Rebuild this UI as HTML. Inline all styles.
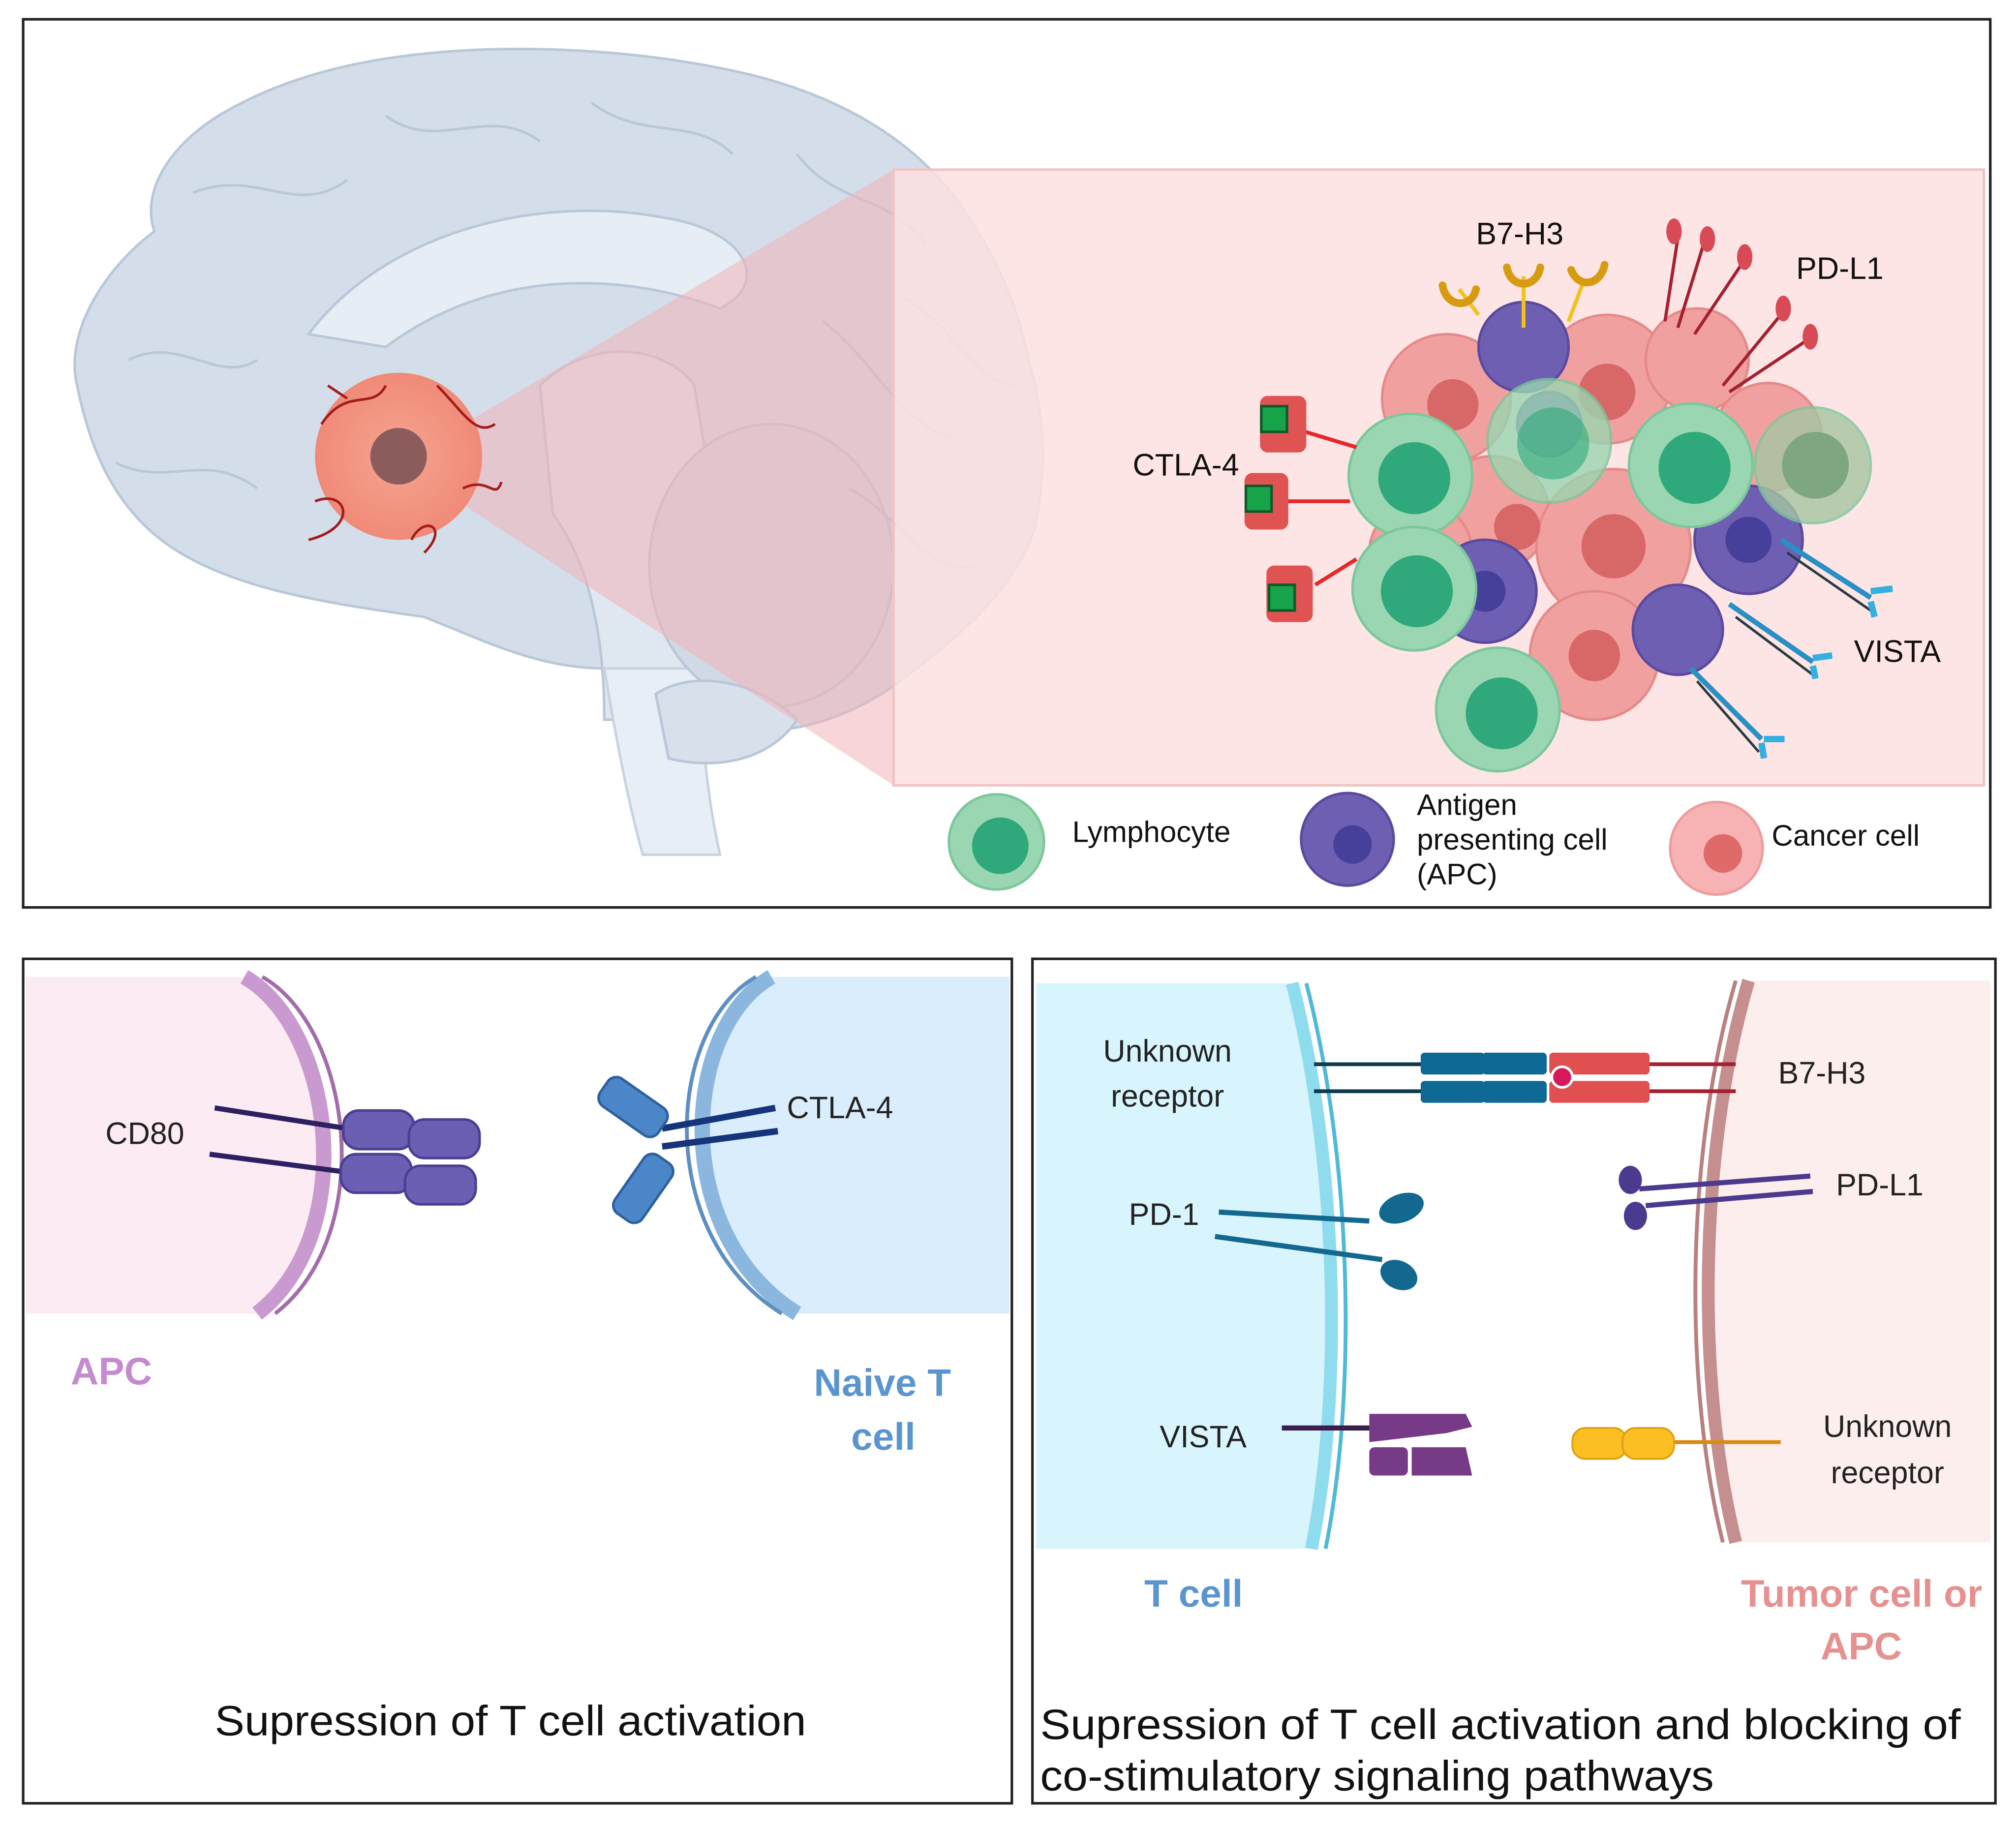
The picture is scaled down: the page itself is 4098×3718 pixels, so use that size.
<!DOCTYPE html>
<html><head><meta charset="utf-8"><style>
html,body{margin:0;padding:0;background:#fff}
svg{display:block}
text{font-family:"Liberation Sans",sans-serif}
</style></head><body>
<svg width="4098" height="3718" viewBox="0 0 1568 1423" preserveAspectRatio="none" xmlns="http://www.w3.org/2000/svg">
<defs>
<radialGradient id="tum" cx="50%" cy="50%" r="50%"><stop offset="0" stop-color="#f4a58f"/><stop offset="1" stop-color="#f08a78"/></radialGradient>
</defs>
<rect x="0" y="0" width="1568" height="1423" fill="#fff"/>
<!-- TOP PANEL -->
<rect x="18" y="15" width="1530" height="691" fill="#fff" stroke="#222" stroke-width="2"/>
<!-- Brain -->
<path d="M120,180 C80,210 50,260 60,300 C70,350 90,400 140,430 C190,460 260,470 330,480 C380,500 420,520 470,520 C500,540 520,560 560,560 C600,580 660,560 700,530 C740,500 790,460 805,410 C815,360 812,320 800,280 C790,230 770,190 740,150 C700,100 640,70 570,55 C500,40 420,35 350,40 C280,45 220,60 170,90 C130,115 110,150 120,180 Z" fill="#d3deea" stroke="#b9c7d8" stroke-width="2"/>
<path d="M240,260 C300,180 420,150 520,170 C580,180 600,220 560,240 C480,210 380,210 300,270 Z" fill="#e6edf5" stroke="#b9c7d8" stroke-width="2"/>
<path d="M420,300 C460,260 520,270 540,300 L560,420 C550,470 540,520 545,560 L470,560 C470,500 460,440 430,400 Z" fill="#dfe7f0" stroke="#b9c7d8" stroke-width="2"/>
<path d="M470,520 C480,580 490,630 500,665 L560,665 C550,620 545,570 545,520 Z" fill="#e8eef5" stroke="#c8d3e0" stroke-width="2"/>
<ellipse cx="600" cy="440" rx="95" ry="110" fill="#d0dae6" stroke="#b9c7d8" stroke-width="2"/>
<path d="M510,540 C540,520 590,530 620,560 C600,590 560,600 520,590 Z" fill="#d7e0eb" stroke="#b9c7d8" stroke-width="2"/>
<g stroke="#b9c7d8" stroke-width="2" fill="none">
<path d="M150,150 C200,130 230,170 270,140"/><path d="M300,90 C340,120 380,80 420,110"/><path d="M460,80 C500,110 540,90 570,120"/><path d="M620,120 C650,160 690,150 720,190"/><path d="M100,280 C140,260 170,300 200,280"/><path d="M640,250 C680,280 700,330 740,340"/><path d="M90,360 C130,380 160,350 200,380"/><path d="M660,380 C700,400 720,450 760,440"/><path d="M700,230 C740,250 760,300 790,300"/>
</g>
<!-- Pink zoom region -->
<polygon points="310,360 695,132 695,611" fill="#f2b3b8" opacity="0.55"/>
<rect x="695" y="132" width="848" height="479" fill="#fde0e0" fill-opacity="0.85" stroke="#f0c4c4" stroke-width="2"/>
<!-- Tumor -->
<circle cx="310" cy="355" r="65" fill="url(#tum)"/>
<circle cx="310" cy="355" r="22" fill="#8c5c5c"/>
<g stroke="#a31d1d" stroke-width="2" fill="none">
<path d="M250,330 C270,300 290,320 300,300"/><path d="M340,300 C360,320 370,340 385,330"/><path d="M245,390 C270,380 280,410 240,420"/><path d="M320,420 C330,400 350,410 330,430"/><path d="M360,380 C380,370 385,390 390,375"/><path d="M270,310 L255,300"/>
</g>
<!-- Cluster: cancer cells -->
<g fill="#f1a0a0" stroke="#e58a8a" stroke-width="2">
<circle cx="1125" cy="310" r="50"/><circle cx="1250" cy="295" r="50"/><circle cx="1320" cy="280" r="40"/><circle cx="1375" cy="340" r="42"/>
<circle cx="1160" cy="400" r="45"/><circle cx="1255" cy="425" r="60"/><circle cx="1240" cy="510" r="50"/><circle cx="1105" cy="430" r="40"/>
</g>
<g fill="#d86868"><circle cx="1130" cy="315" r="20"/><circle cx="1250" cy="305" r="22"/><circle cx="1255" cy="425" r="25"/><circle cx="1240" cy="510" r="20"/><circle cx="1180" cy="410" r="18"/></g>
<!-- APCs -->
<g fill="#6f5fb3" stroke="#5a4a9e" stroke-width="2">
<circle cx="1185" cy="270" r="35"/><circle cx="1155" cy="460" r="40"/><circle cx="1360" cy="420" r="42"/><circle cx="1305" cy="490" r="35"/><circle cx="1205" cy="330" r="25"/>
</g>
<g fill="#47409a"><circle cx="1360" cy="420" r="18"/><circle cx="1155" cy="460" r="16"/></g>
<!-- Lymphocytes -->
<g stroke="#7cc79c" stroke-width="2">
<circle cx="1097" cy="370" r="48" fill="#9ad6b1"/><circle cx="1100" cy="458" r="48" fill="#9ad6b1"/><circle cx="1165" cy="552" r="48" fill="#9ad6b1"/>
<circle cx="1205" cy="343" r="48" fill="#9ad6b1" opacity="0.8"/><circle cx="1315" cy="362" r="48" fill="#9ad6b1"/><circle cx="1410" cy="362" r="45" fill="#a6c7a2" opacity="0.8"/>
</g>
<g fill="#2fa97b"><circle cx="1100" cy="372" r="28"/><circle cx="1102" cy="460" r="28"/><circle cx="1168" cy="555" r="28"/><circle cx="1208" cy="345" r="28" opacity="0.6"/><circle cx="1318" cy="364" r="28"/><circle cx="1412" cy="362" r="26" fill="#7ea77f"/></g>
<!-- CTLA-4 receptors -->
<g stroke="#e62828" stroke-width="3"><line x1="1012" y1="335" x2="1055" y2="348"/><line x1="998" y1="390" x2="1050" y2="390"/><line x1="1023" y1="455" x2="1055" y2="435"/></g>
<g fill="#e05353"><rect x="980" y="308" width="36" height="44" rx="6"/><rect x="968" y="368" width="34" height="44" rx="6"/><rect x="985" y="440" width="36" height="44" rx="6"/></g>
<g fill="#16a34a" stroke="#0c5a2a" stroke-width="2"><rect x="981" y="316" width="20" height="20"/><rect x="969" y="378" width="20" height="20"/><rect x="987" y="455" width="20" height="20"/></g>
<!-- B7-H3 -->
<g stroke="#f2c21b" stroke-width="3" fill="none"><line x1="1150" y1="245" x2="1135" y2="225"/><line x1="1185" y1="255" x2="1185" y2="215"/><line x1="1220" y1="250" x2="1232" y2="218"/></g>
<g stroke="#d69b10" stroke-width="6" fill="none" stroke-linecap="round"><path d="M1122,222 C1125,240 1145,240 1148,225"/><path d="M1172,208 C1175,225 1195,225 1198,208"/><path d="M1222,210 C1228,225 1245,222 1248,206"/></g>
<!-- PD-L1 -->
<g stroke="#a52030" stroke-width="2.5"><line x1="1295" y1="250" x2="1305" y2="185"/><line x1="1305" y1="255" x2="1325" y2="190"/><line x1="1318" y1="260" x2="1355" y2="205"/><line x1="1340" y1="300" x2="1385" y2="245"/><line x1="1345" y1="305" x2="1405" y2="265"/></g>
<g fill="#d84a55"><ellipse cx="1302" cy="180" rx="6" ry="10"/><ellipse cx="1328" cy="186" rx="6" ry="10"/><ellipse cx="1357" cy="200" rx="6" ry="10"/><ellipse cx="1387" cy="240" rx="6" ry="10"/><ellipse cx="1408" cy="262" rx="6" ry="10"/></g>
<!-- VISTA antibodies -->
<g stroke="#2a8fc4" stroke-width="4"><line x1="1385" y1="420" x2="1455" y2="465"/><line x1="1345" y1="470" x2="1410" y2="515"/><line x1="1315" y1="520" x2="1370" y2="575"/></g>
<g stroke="#2b3a40" stroke-width="2"><line x1="1390" y1="430" x2="1455" y2="475"/><line x1="1350" y1="480" x2="1410" y2="525"/><line x1="1320" y1="530" x2="1368" y2="585"/></g>
<g stroke="#33b0e0" stroke-width="5"><line x1="1455" y1="468" x2="1458" y2="480"/><line x1="1455" y1="460" x2="1472" y2="458"/><line x1="1410" y1="518" x2="1412" y2="528"/><line x1="1410" y1="512" x2="1425" y2="510"/><line x1="1370" y1="578" x2="1372" y2="590"/><line x1="1372" y1="575" x2="1388" y2="575"/></g>
<g font-size="24" fill="#111">
<text x="1148" y="190">B7-H3</text><text x="1397" y="217">PD-L1</text><text x="881" y="370">CTLA-4</text><text x="1442" y="515">VISTA</text>
</g>
<!-- Legend -->
<circle cx="775" cy="655" r="37" fill="#9ad6b1" stroke="#7cc79c" stroke-width="2"/><circle cx="778" cy="658" r="22" fill="#2fa97b"/>
<text x="834" y="655" font-size="23" fill="#111">Lymphocyte</text>
<circle cx="1048" cy="653" r="36" fill="#6f5fb3" stroke="#5a4a9e" stroke-width="2"/><circle cx="1052" cy="657" r="15" fill="#47409a"/>
<text x="1102" y="634" font-size="23" fill="#111">Antigen</text><text x="1102" y="661" font-size="23" fill="#111">presenting cell</text><text x="1102" y="688" font-size="23" fill="#111">(APC)</text>
<circle cx="1335" cy="660" r="36" fill="#f7b3b3" stroke="#ee9c9c" stroke-width="2"/><circle cx="1340" cy="664" r="15" fill="#e06a6a"/>
<text x="1378" y="658" font-size="23" fill="#111">Cancer cell</text>

<!-- BOTTOM LEFT -->
<rect x="18" y="746" width="769" height="657" fill="#fff" stroke="#222" stroke-width="2"/>
<path d="M20,760 L190,760 C260,800 280,960 200,1022 L20,1022 Z" fill="#fcebf3"/>
<path d="M190,760 C260,800 280,960 200,1022" fill="none" stroke="#c99ad0" stroke-width="12"/>
<path d="M204,760 C274,800 294,960 214,1022" fill="none" stroke="#a36dab" stroke-width="3"/>
<path d="M785,760 L600,760 C530,800 520,960 620,1022 L785,1022 Z" fill="#d9edfc"/>
<path d="M600,760 C530,800 520,960 620,1022" fill="none" stroke="#8bb7df" stroke-width="12"/>
<path d="M588,760 C518,800 508,960 608,1022" fill="none" stroke="#5d8fc4" stroke-width="3"/>
<g stroke="#2d2060" stroke-width="4"><line x1="167" y1="862" x2="270" y2="878"/><line x1="163" y1="898" x2="270" y2="912"/></g>
<g fill="#6a5fb2" stroke="#4a3f92" stroke-width="2"><rect x="267" y="864" width="55" height="30" rx="12"/><rect x="318" y="871" width="55" height="30" rx="12"/><rect x="265" y="898" width="55" height="30" rx="12"/><rect x="315" y="907" width="55" height="30" rx="12"/></g>
<g stroke="#16347a" stroke-width="5"><line x1="515" y1="878" x2="603" y2="862"/><line x1="515" y1="892" x2="605" y2="880"/></g>
<g fill="#4a86c8" stroke="#2e5f9e" stroke-width="2"><rect x="465" y="848" width="55" height="26" rx="8" transform="rotate(35 492 861)"/><rect x="473" y="912" width="55" height="26" rx="8" transform="rotate(-55 500 925)"/></g>
<g font-size="24" fill="#222"><text x="82" y="890">CD80</text><text x="612" y="870">CTLA-4</text></g>
<text x="55" y="1077" font-size="30" font-weight="bold" fill="#c58ad0">APC</text>
<text x="633" y="1086" font-size="30" font-weight="bold" fill="#5b95d0">Naive T</text>
<text x="662" y="1128" font-size="30" font-weight="bold" fill="#5b95d0">cell</text>
<text x="167" y="1350" font-size="33" fill="#111" textLength="460" lengthAdjust="spacingAndGlyphs">Supression of T cell activation</text>

<!-- BOTTOM RIGHT -->
<rect x="803" y="746" width="749" height="657" fill="#fff" stroke="#222" stroke-width="2"/>
<path d="M806,765 L1005,765 C1040,900 1045,1080 1020,1205 L806,1205 Z" fill="#d8f4fc"/>
<path d="M1005,765 C1040,900 1045,1080 1020,1205" fill="none" stroke="#8fdcef" stroke-width="10"/>
<path d="M1016,765 C1051,900 1056,1080 1031,1205" fill="none" stroke="#4fb9d8" stroke-width="3"/>
<path d="M1548,763 L1360,763 C1320,900 1320,1080 1350,1200 L1548,1200 Z" fill="#fdeeee"/>
<path d="M1360,763 C1320,900 1320,1080 1350,1200" fill="none" stroke="#c58f8f" stroke-width="10"/>
<path d="M1350,763 C1310,900 1310,1080 1340,1200" fill="none" stroke="#b98080" stroke-width="3"/>
<g stroke="#103a4e" stroke-width="3"><line x1="1022" y1="828" x2="1108" y2="828"/><line x1="1022" y1="849" x2="1108" y2="849"/></g>
<g fill="#0e6a95"><rect x="1105" y="819" width="50" height="17" rx="3"/><rect x="1153" y="819" width="50" height="17" rx="3"/><rect x="1105" y="841" width="50" height="17" rx="3"/><rect x="1153" y="841" width="50" height="17" rx="3"/></g>
<g fill="#e05050"><rect x="1205" y="819" width="78" height="17" rx="3"/><rect x="1205" y="841" width="78" height="17" rx="3"/></g>
<circle cx="1215" cy="838" r="8" fill="#d41a5a" stroke="#fff" stroke-width="2"/>
<g stroke="#a52030" stroke-width="3"><line x1="1283" y1="828" x2="1350" y2="828"/><line x1="1283" y1="849" x2="1350" y2="849"/></g>
<g stroke="#12688f" stroke-width="4"><line x1="948" y1="943" x2="1065" y2="950"/><line x1="945" y1="962" x2="1075" y2="980"/></g>
<g fill="#12688f"><ellipse cx="1090" cy="940" rx="18" ry="11" transform="rotate(-20 1090 940)"/><ellipse cx="1088" cy="992" rx="15" ry="11" transform="rotate(25 1088 992)"/></g>
<g stroke="#4c3a8f" stroke-width="4"><line x1="1275" y1="925" x2="1408" y2="915"/><line x1="1280" y1="938" x2="1410" y2="927"/></g>
<g fill="#4c3a8f"><ellipse cx="1268" cy="918" rx="9" ry="11"/><ellipse cx="1272" cy="946" rx="9" ry="11"/></g>
<line x1="997" y1="1111" x2="1070" y2="1111" stroke="#3a1e4e" stroke-width="4"/>
<g fill="#773a86"><path d="M1065,1100 L1140,1100 L1145,1110 L1125,1115 L1065,1122 Z"/><rect x="1065" y="1126" width="30" height="22" rx="4"/><path d="M1098,1126 L1140,1126 L1145,1148 L1098,1148 Z"/></g>
<line x1="1300" y1="1122" x2="1385" y2="1122" stroke="#d98a10" stroke-width="3"/>
<g fill="#fbbf24" stroke="#e0a010" stroke-width="1.5"><rect x="1223" y="1111" width="42" height="24" rx="10"/><rect x="1262" y="1111" width="40" height="24" rx="10"/></g>
<g font-size="24" fill="#222">
<text x="858" y="826">Unknown</text><text x="864" y="861">receptor</text>
<text x="1383" y="843">B7-H3</text><text x="878" y="953">PD-1</text><text x="1428" y="930">PD-L1</text>
<text x="902" y="1126">VISTA</text><text x="1418" y="1118">Unknown</text><text x="1424" y="1154">receptor</text>
</g>
<text x="890" y="1250" font-size="30" font-weight="bold" fill="#5b95d0">T cell</text>
<text x="1354" y="1250" font-size="30" font-weight="bold" fill="#e69090">Tumor cell or</text>
<text x="1416" y="1291" font-size="30" font-weight="bold" fill="#e69090">APC</text>
<text x="809" y="1353" font-size="33" fill="#111" textLength="716" lengthAdjust="spacingAndGlyphs">Supression of T cell activation  and blocking of</text>
<text x="809" y="1393" font-size="33" fill="#111" textLength="524" lengthAdjust="spacingAndGlyphs">co-stimulatory signaling pathways</text>
</svg>
</body></html>
